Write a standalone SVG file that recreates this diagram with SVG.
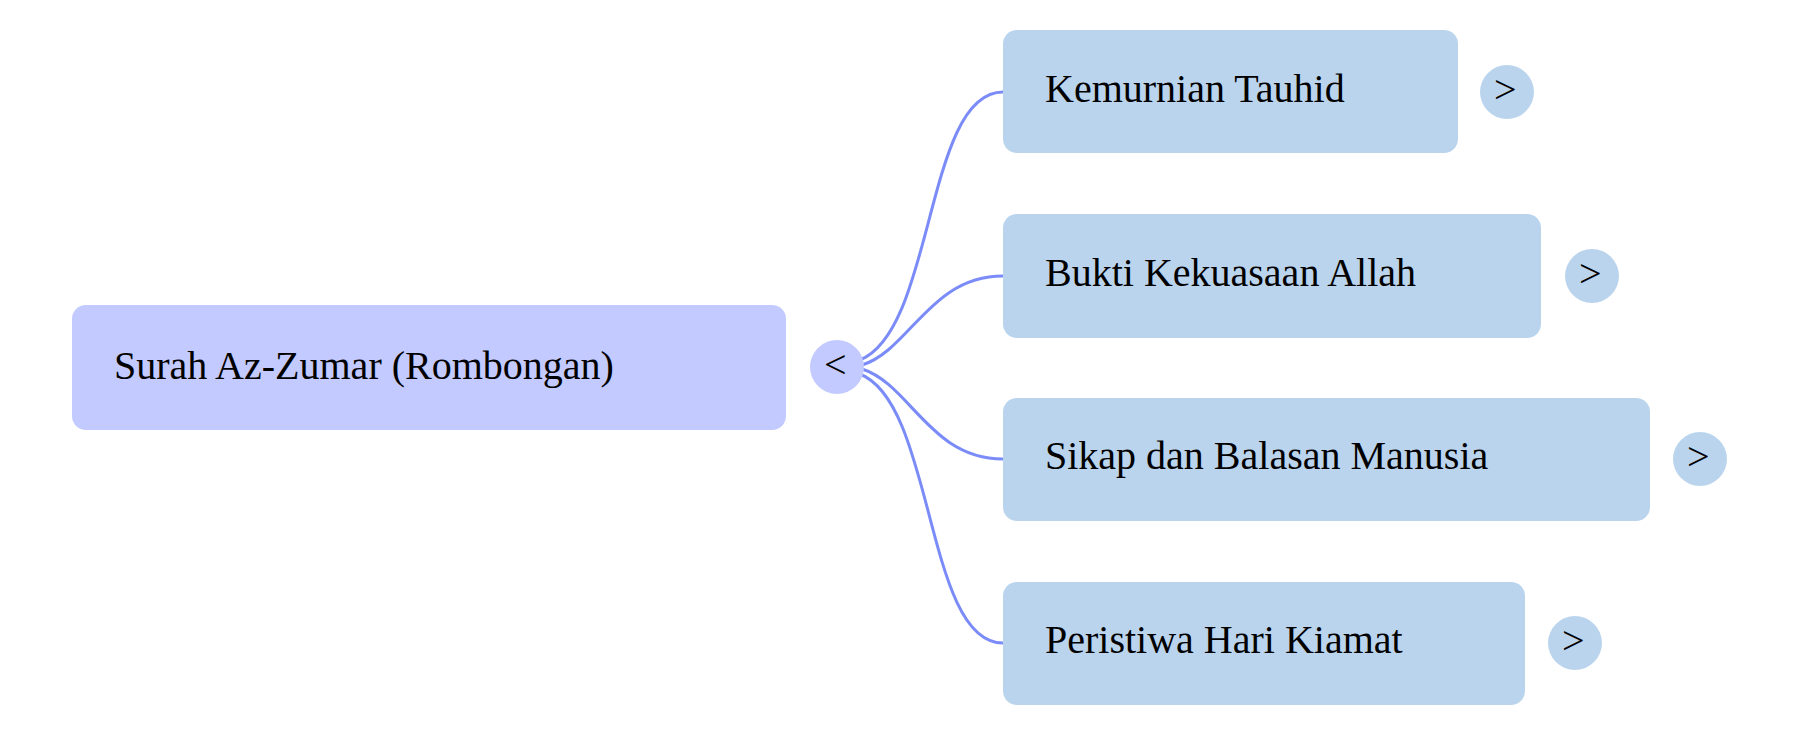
<svg xmlns="http://www.w3.org/2000/svg" width="1800" height="736" viewBox="0 0 1800 736">
<style>
text{font-family:"Liberation Serif","Times New Roman",serif;font-size:40px;fill:#000}
.child{fill:#BAD4EE}
.root{fill:#C3CAFF}
.tog{fill:#BAD4EE}
.lnk{fill:none;stroke:#7B8CF8;stroke-width:3}
</style>
<rect width="1800" height="736" fill="#fff"/>
<g id="connectors">
<path class="lnk" d="M860,360 C935,330 925,92 1003,92"/>
<path class="lnk" d="M862,365 C910,350 930,276 1003,276"/>
<path class="lnk" d="M862,369 C910,384 930,459 1003,459"/>
<path class="lnk" d="M860,374 C935,404 925,643 1003,643"/>
</g>
<g id="root"><rect class="root" x="72" y="305" width="714" height="125" rx="14"/><text x="114" y="379">Surah Az-Zumar (Rombongan)</text>
<circle cx="837" cy="367" r="27" fill="#C3CAFF"/><text x="824" y="378">&lt;</text></g>
<g id="n1"><rect class="child" x="1003" y="30" width="455" height="123" rx="14"/><text x="1045" y="102">Kemurnian Tauhid</text>
<circle class="tog" cx="1507" cy="92" r="27"/><text x="1494" y="103">&gt;</text></g>
<g id="n2"><rect class="child" x="1003" y="214" width="538" height="124" rx="14"/><text x="1045" y="286">Bukti Kekuasaan Allah</text>
<circle class="tog" cx="1592" cy="276" r="27"/><text x="1579" y="287">&gt;</text></g>
<g id="n3"><rect class="child" x="1003" y="398" width="647" height="123" rx="14"/><text x="1045" y="469">Sikap dan Balasan Manusia</text>
<circle class="tog" cx="1700" cy="459" r="27"/><text x="1687" y="470">&gt;</text></g>
<g id="n4"><rect class="child" x="1003" y="582" width="522" height="123" rx="14"/><text x="1045" y="653">Peristiwa Hari Kiamat</text>
<circle class="tog" cx="1575" cy="643" r="27"/><text x="1562" y="654">&gt;</text></g>
</svg>
